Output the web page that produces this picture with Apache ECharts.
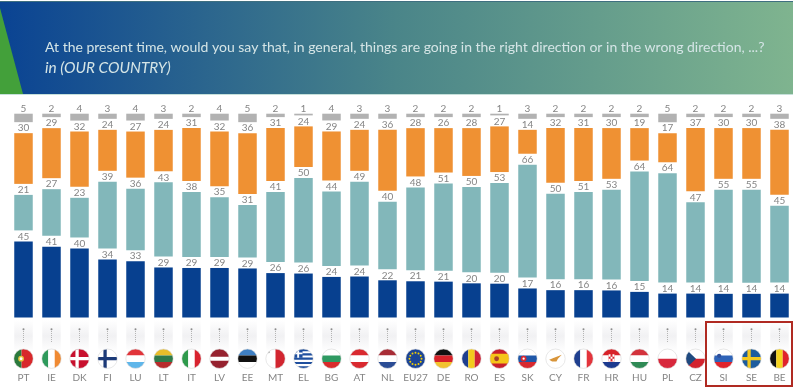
<!DOCTYPE html>
<html>
<head>
<meta charset="utf-8">
<style>html,body{margin:0;padding:0;background:#fff}#c{width:799px;height:389px}</style>
<script src="https://cdn.jsdelivr.net/npm/echarts@6/dist/echarts.min.js"></script>
</head>
<body>
<div id="c"></div>
<script>
const countries = ['PT','IE','DK','FI','LU','LT','IT','LV','EE','MT','EL','BG','AT','NL','EU27','DE','RO','ES','SK','CY','FR','HR','HU','PL','CZ','SI','SE','BE'];
const rightDirection = [45,41,40,34,33,29,29,29,29,26,26,24,24,22,21,21,20,20,17,16,16,16,15,14,14,14,14,14];
const wrongDirection = [21,27,23,39,36,43,38,35,31,41,50,44,49,40,48,51,50,53,66,50,51,53,64,64,47,55,55,45];
const neither = [30,29,32,24,27,24,31,32,36,31,24,29,24,36,28,26,28,27,14,32,31,30,19,17,37,30,30,38];
const dontKnow = [5,2,4,3,4,3,2,4,5,2,1,4,3,3,2,2,2,1,3,2,2,2,2,5,2,2,2,3];
const titleLine = 'At the present time, would you say that, in general, things are going in the right direction or in the wrong direction, ...?';
const subtitleLine = 'in (OUR COUNTRY)';

const pxPerUnit = 1.708, gapPx = 11, gridTop = 95, gridBottomY = 317.5;
const yMax = (gridBottomY - gridTop) / pxPerUnit;
const gapUnits = gapPx / pxPerUnit;
const sums = countries.map((_, i) => rightDirection[i] + wrongDirection[i] + neither[i] + dontKnow[i]);
const norm = arr => arr.map((v, i) => v * 100 / sums[i]);
const font = 'Lato, sans-serif';

function barSeries(name, arr, color) {
  return {
    name, type: 'bar', stack: 's', xAxisIndex: 0, yAxisIndex: 0, barWidth: 18.5,
    data: norm(arr), itemStyle: { color }, silent: true,
    label: { show: true, position: 'top', distance: 0, color: '#858585', fontSize: 10, fontFamily: font,
      formatter: p => String(arr[p.dataIndex]) }
  };
}
function gapSeries(id) {
  return { name: id, type: 'bar', stack: 's', barWidth: 18.5, data: countries.map(() => gapUnits),
    itemStyle: { color: 'transparent' }, silent: true };
}

const H = (a, b, c) => [['r',-1,-1,1,-1/3,a],['r',-1,-1/3,1,1/3,b],['r',-1,1/3,1,1,c]];
const V = (a, b, c) => [['r',-1,-1,-1/3,1,a],['r',-1/3,-1,1/3,1,b],['r',1/3,-1,1,1,c]];
const cross = (bg, fg, x) => [['r',-1,-1,1,1,bg],['r',x-0.17,-1,x+0.17,1,fg],['r',-1,-0.17,1,0.17,fg]];
const euStars = [];
for (let k = 0; k < 12; k++) euStars.push(['c', 0.62*Math.cos(k*Math.PI/6), 0.62*Math.sin(k*Math.PI/6), 0.1, '#f4d000']);
const greek = [['r',-1,-1,1,1,'#fff']];
for (let k = 0; k < 5; k++) greek.push(['r',-1,-1+k*0.444,1,-1+k*0.444+0.222,'#1f4f9e']);
greek.push(['r',-1,-1,-0.1,-0.1,'#1f4f9e'],['r',-0.65,-1,-0.45,-0.1,'#fff'],['r',-1,-0.65,-0.1,-0.45,'#fff']);

const flagArt = {
  PT: [['r',-1,-1,-0.2,1,'#2b7a3c'],['r',-0.2,-1,1,1,'#d8282b'],['c',-0.25,0,0.3,'#e9c23a'],['c',-0.25,0,0.15,'#fff']],
  IE: V('#2f9a5c','#ffffff','#f08a33'),
  DK: cross('#c8102e','#ffffff',-0.25),
  FI: cross('#ffffff','#1c3a78',-0.25),
  LU: H('#e1343a','#ffffff','#5fb6ea'),
  LT: H('#e8bd2a','#2f7a4a','#b72c2c'),
  IT: V('#2f9a4c','#ffffff','#d8232f'),
  LV: [['r',-1,-1,1,1,'#96222f'],['r',-1,-0.2,1,0.2,'#ffffff']],
  EE: H('#3f80c4','#111111','#ffffff'),
  MT: [['r',-1,-1,0,1,'#ffffff'],['r',0,-1,1,1,'#d22630'],['c',-0.7,-0.7,0.13,'#b5b5b5']],
  EL: greek,
  BG: H('#ffffff','#2f9a62','#d92b2b'),
  AT: H('#d9292f','#ffffff','#d9292f'),
  NL: H('#a82c36','#ffffff','#2b4d95'),
  EU27: [['r',-1,-1,1,1,'#1c4596']].concat(euStars),
  DE: H('#111111','#d8232a','#f2c230'),
  RO: V('#1e3f8f','#f2cb1d','#cf2336'),
  ES: [['r',-1,-1,1,1,'#c8202c'],['r',-1,-0.5,1,0.5,'#f5c518'],['c',-0.3,0,0.25,'#a8422a']],
  SK: [...H('#ffffff','#1f57a8','#d8282f'),['c',-0.4,0,0.3,'#d8282f'],['c',-0.4,0,0.12,'#ffffff']],
  CY: [['r',-1,-1,1,1,'#ffffff'],['p',[[-0.65,0.1],[-0.15,-0.1],[0.65,-0.4],[0.25,0.0],[0.1,0.3],[-0.35,0.3]],'#d8953a']],
  FR: V('#1f3f8f','#ffffff','#e3343c'),
  HR: [...H('#d8232a','#ffffff','#1c3a8f'),['r',-0.3,-0.45,0.3,0.3,'#d8232a'],['r',-0.1,-0.2,0.1,0,'#ffffff'],['r',-0.3,-0.45,-0.1,-0.2,'#ffffff'],['r',0.1,-0.45,0.3,-0.2,'#ffffff'],['r',-0.3,0,-0.1,0.3,'#ffffff'],['r',0.1,0,0.3,0.3,'#ffffff']],
  HU: H('#d3323c','#ffffff','#2f8a55'),
  PL: [['r',-1,-1,1,0,'#ffffff'],['r',-1,0,1,1,'#d8283c']],
  CZ: [['r',-1,-1,1,0,'#ffffff'],['r',-1,0,1,1,'#d3232e'],['p',[[-1,-1],[0.05,0],[-1,1]],'#1f4a80']],
  SI: [...H('#ffffff','#2f64b8','#e0232c'),['c',-0.45,-0.3,0.22,'#2f4f9a']],
  SE: cross('#1d5c9e','#f4c91f',-0.25),
  BE: V('#111111','#f5d31f','#e0232c')
};

function flagItem(params, api) {
  const i = api.value(0), x = api.coord([i, 0])[0], code = countries[i];
  const top = 320, colBottom = 352, cy = 358.7, r = 9.7, hw = 9.25;
  const art = (flagArt[code] || []).map(s => {
    if (s[0] === 'r') return { type: 'rect', shape: { x: x + s[1]*r, y: cy + s[2]*r, width: (s[3]-s[1])*r, height: (s[4]-s[2])*r }, style: { fill: s[5] } };
    if (s[0] === 'c') return { type: 'circle', shape: { cx: x + s[1]*r, cy: cy + s[2]*r, r: s[3]*r }, style: { fill: s[4] } };
    return { type: 'polygon', shape: { points: s[1].map(p => [x + p[0]*r, cy + p[1]*r]) }, style: { fill: s[2] } };
  });
  return { type: 'group', children: [
    { type: 'rect', shape: { x: x - hw, y: top, width: 2*hw, height: colBottom - top },
      style: { fill: { type: 'linear', x: 0, y: 0, x2: 0, y2: 1, colorStops: [{ offset: 0, color: '#ffffff' }, { offset: 0.5, color: '#f1f1f3' }, { offset: 1, color: '#ffffff' }] } } },
    { type: 'circle', shape: { cx: x, cy: 329.3, r: 1 }, style: { fill: '#8c8c8c' } },
    { type: 'line', shape: { x1: x, y1: 331, x2: x, y2: 342 }, style: { stroke: '#b5b5b5', lineWidth: 1, lineDash: [1, 1] } },
    { type: 'group', children: art, clipPath: { type: 'circle', shape: { cx: x, cy, r } } },
    { type: 'circle', shape: { cx: x, cy, r }, style: { fill: 'transparent', stroke: '#d9d9d9', lineWidth: 0.6 } }
  ] };
}

const chart = echarts.init(document.getElementById('c'), null, { renderer: 'canvas' });
chart.setOption({
  animation: false,
  backgroundColor: '#ffffff',
  grid: [
    { left: 9.5, width: 784, top: gridTop, height: gridBottomY - gridTop },
    { left: 9.5, width: 784, top: 318, height: 53 }
  ],
  xAxis: [
    { type: 'category', gridIndex: 0, data: countries, axisLine: { show: false }, axisTick: { show: false }, axisLabel: { show: false } },
    { type: 'category', gridIndex: 1, data: countries, axisLine: { show: false }, axisTick: { show: false },
      axisLabel: { interval: 0, color: '#858585', fontSize: 10, fontFamily: font, margin: 2 } }
  ],
  yAxis: [
    { type: 'value', gridIndex: 0, min: 0, max: yMax, show: false, splitLine: { show: false } },
    { type: 'value', gridIndex: 1, min: 0, max: 1, show: false, splitLine: { show: false } }
  ],
  series: [
    barSeries('Right direction', rightDirection, '#07408f'),
    gapSeries('g1'),
    barSeries('Wrong direction', wrongDirection, '#82b7ba'),
    gapSeries('g2'),
    barSeries('Neither', neither, '#ef9133'),
    gapSeries('g3'),
    barSeries("Don't know", dontKnow, '#b2b2b2'),
    { type: 'custom', xAxisIndex: 1, yAxisIndex: 1, silent: true, data: countries.map((_, i) => [i, 0]),
      encode: { x: 0, y: 1 }, renderItem: flagItem, clip: false }
  ],
  graphic: [
    { type: 'rect', z: 10, shape: { x: 0, y: 2, width: 793, height: 92 },
      style: { fill: { type: 'linear', x: 0, y: 0, x2: 1, y2: 0, colorStops: [
        { offset: 0, color: '#0a4393' }, { offset: 0.5, color: '#4a8589' }, { offset: 1, color: '#7fb48f' } ] } } },
    { type: 'rect', z: 10, shape: { x: 0, y: 1, width: 793, height: 1 }, style: { fill: '#3f6f80' } },
    { type: 'rect', z: 10, shape: { x: 0, y: 94, width: 793, height: 1 }, style: { fill: '#c6e0da' } },
    { type: 'polygon', z: 11, shape: { points: [[0, 8], [23, 94], [0, 94]] }, style: { fill: '#43a03a' } },
    { type: 'text', z: 12, x: 45, y: 47, style: { text: titleLine, fill: '#d5e5e6', font: '14px ' + font, textVerticalAlign: 'middle' } },
    { type: 'text', z: 12, x: 45, y: 68, style: { text: subtitleLine, fill: '#d5e5e6', font: 'italic 15.4px ' + font, textVerticalAlign: 'middle' } },
    { type: 'rect', z: 12, shape: { x: 706, y: 322, width: 86, height: 64 }, style: { fill: 'transparent', stroke: '#b02a22', lineWidth: 2 } }
  ]
});
</script>
</body>
</html>
